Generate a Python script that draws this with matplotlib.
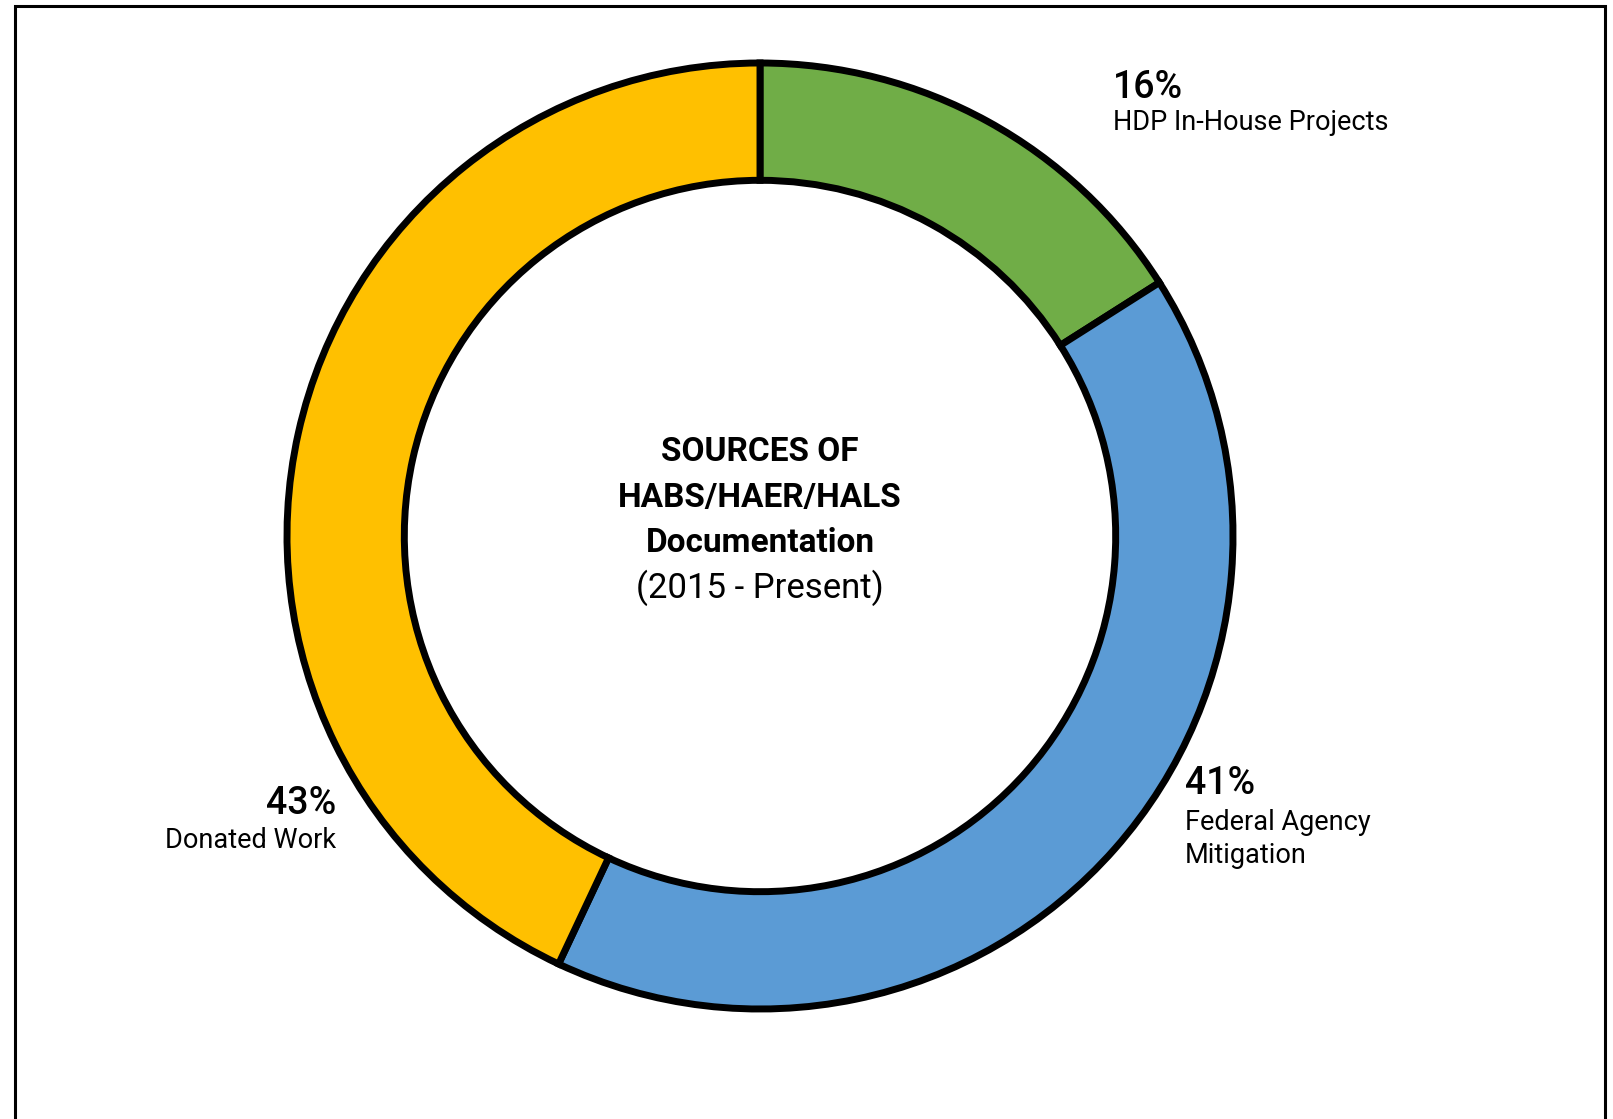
import matplotlib
matplotlib.use("Agg")
import matplotlib.pyplot as plt
from matplotlib.patches import Rectangle

# data
categories = ["HDP In-House Projects", "Federal Agency\nMitigation", "Donated Work"]
shares = [16, 41, 43]
colors = ["#70AD47", "#5B9BD5", "#FFC000"]

title_lines = ["SOURCES OF", "HABS/HAER/HALS", "Documentation"]
subtitle = "(2015 - Present)"

plt.rcParams["font.family"] = ["Roboto", "DejaVu Sans"]

W, H = 1613, 1119
fig = plt.figure(figsize=(W / 100, H / 100), dpi=100)
ax = fig.add_axes([0, 0, 1, 1])

# outer frame (bottom edge runs off the image)
ax.add_patch(Rectangle((14.5, -20), 1590, H - 6 + 20, fill=False,
                       edgecolor="black", linewidth=2.2))

cx, cy = 760, H - 536
r = 473
ax.pie(shares, colors=colors, startangle=90, counterclock=False,
       center=(cx, cy), radius=r, frame=True,
       wedgeprops=dict(width=r * 0.248, edgecolor="black", linewidth=5))
ax.set_xlim(0, W)
ax.set_ylim(0, H)
ax.set_aspect("equal")
ax.axis("off")

# centre title
ys = [452, 498, 543]
for line, y in zip(title_lines, ys):
    ax.text(cx, H - y, line, ha="center", va="center", fontsize=24,
            fontweight="bold", color="black")
ax.text(cx, H - 588, subtitle, ha="center", va="center", fontsize=25,
        color="black")

# slice labels
pct_size = 27
lab_size = 19.5
# green
ax.text(1113, H - 88, f"{shares[0]}%", ha="left", va="center",
        fontsize=pct_size, fontweight="medium")
ax.text(1113, H - 123, categories[0], ha="left", va="center", fontsize=lab_size)
# blue
ax.text(1185, H - 784, f"{shares[1]}%", ha="left", va="center",
        fontsize=pct_size, fontweight="medium")
ax.text(1185, H - 839, categories[1], ha="left", va="center", fontsize=lab_size,
        linespacing=1.27)
# yellow
ax.text(336, H - 804, f"{shares[2]}%", ha="right", va="center",
        fontsize=pct_size, fontweight="medium")
ax.text(336, H - 841, categories[2], ha="right", va="center", fontsize=lab_size)

fig.savefig("out.png", dpi=100, facecolor="white")
